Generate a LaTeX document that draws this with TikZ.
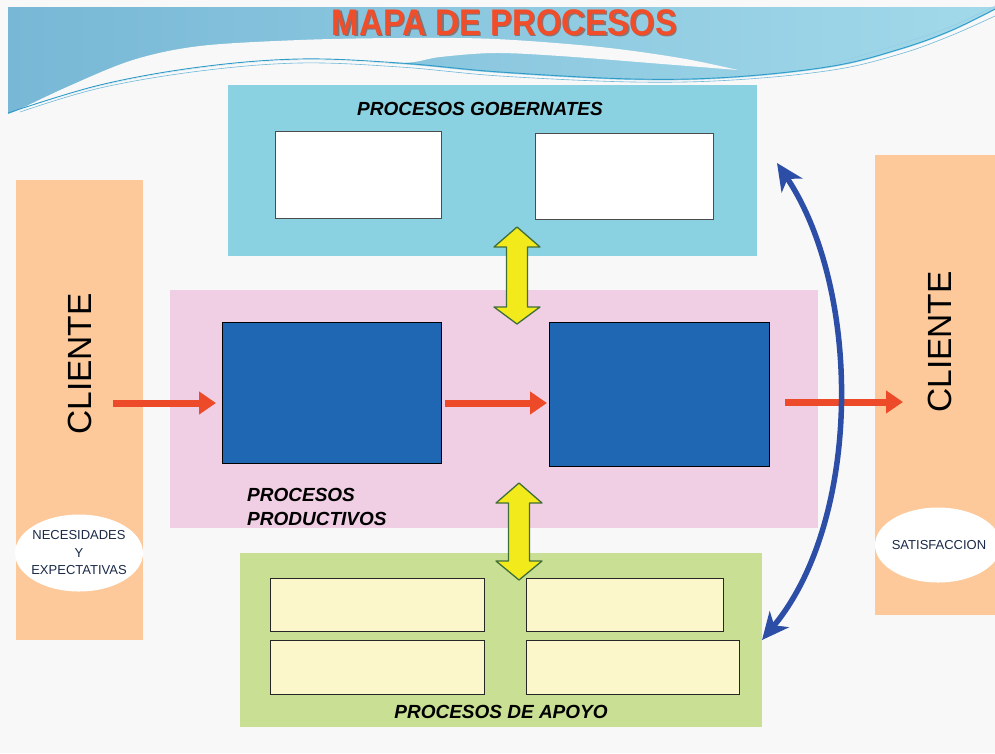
\documentclass[tikz,border=0pt]{standalone}
\usepackage{fontspec}
\setmainfont{Liberation Sans}
\usetikzlibrary{arrows.meta,shapes.geometric}
\definecolor{pagebg}{HTML}{F8F8F8}
\definecolor{bannerL}{HTML}{78B8D6}
\definecolor{bannerM}{HTML}{86CFE2}
\definecolor{bannerR}{HTML}{A2D9EA}
\definecolor{bannerline}{HTML}{2E9BC9}
\definecolor{titlered}{HTML}{F04E2A}
\definecolor{titleshadow}{HTML}{7A2410}
\definecolor{govblue}{HTML}{8AD2E2}
\definecolor{pinkbg}{HTML}{F0CFE4}
\definecolor{greenbg}{HTML}{C9DF93}
\definecolor{peach}{HTML}{FDC99A}
\definecolor{procblue}{HTML}{1F67B2}
\definecolor{cream}{HTML}{FCF7CB}
\definecolor{arrowred}{HTML}{EC4A28}
\definecolor{yellowc}{HTML}{F3EA1C}
\definecolor{yedge}{HTML}{3F6E3A}
\definecolor{curveblue}{HTML}{2D4EA6}
\definecolor{navytext}{HTML}{1B2A48}
\tikzset{
  rectbox/.style={rectangle, inner sep=0pt, outer sep=0pt, anchor=north west},
  whitebox/.style={rectbox, fill=white, draw=black!70, line width=0.9pt},
  bluebox/.style={rectbox, fill=procblue, draw=black, line width=1pt},
  creambox/.style={rectbox, fill=cream, draw=black!85, line width=0.9pt},
  headtext/.style={inner sep=0pt, font=\fontsize{19}{24}\selectfont\bfseries\itshape, text=black},
  clienttext/.style={inner sep=0pt, rotate=90, font=\fontsize{33.5}{36}\selectfont, text=black},
  smalltext/.style={inner sep=0pt, align=center, font=\fontsize{13}{17.5}\selectfont, text=navytext},
  whiteoval/.style={ellipse, fill=white, inner sep=0pt, outer sep=0pt},
  redarrow/.style={line width=7pt, draw=arrowred, -{Triangle[length=17pt,width=22pt]}},
  yellowarrow/.style={fill=yellowc, draw=yedge, line width=1.3pt, line join=round},
  bluecurve/.style={line width=5.5pt, draw=curveblue, {Stealth[length=27pt,width=25pt,inset=8pt]}-{Stealth[length=27pt,width=25pt,inset=8pt]}},
  titlefont/.style={inner sep=0pt, xscale=0.89, font=\fontsize{37}{40}\selectfont\bfseries}
}
\begin{document}
\begin{tikzpicture}[x=1pt,y=-1pt]
\useasboundingbox (0,0) rectangle (995,753);
\fill[pagebg] (0,0) rectangle (995,753);
% banner
\shade[left color=bannerL, middle color=bannerM, right color=bannerR] (8,7) -- (995,7) -- plot[smooth, tension=0.6] coordinates {(995,10) (950,32) (900,50) (833,67) (733,78) (633,80) (500,73) (400,64) (300,60) (200,68) (100,86) (8,114)} -- cycle;
\fill[pagebg] plot[smooth, tension=0.55] coordinates {(8,115) (67,87) (133,60) (200,46) (300,40) (400,38) (495,39) (600,47) (680,58) (738,70)} -- plot[smooth, tension=0.55] coordinates {(650,63) (560,56) (495,53) (440,57) (400,63) (300,60) (200,68) (100,86) (8,115)} -- cycle;
\draw[bannerline, line width=0.9pt] plot[smooth, tension=0.6] coordinates {(8,113) (100,85) (200,67) (300,59) (400,63) (500,72) (633,79) (733,77) (833,66) (900,49) (950,31) (995,9)};
\draw[bannerline!70, line width=0.6pt] plot[smooth, tension=0.6] coordinates {(20,112) (100,88) (200,71) (300,63) (400,67) (500,76) (633,82) (733,80) (833,70) (900,54) (950,36) (995,16)};
\draw[bannerline!50, line width=0.6pt] plot[smooth, tension=0.6] coordinates {(833,64) (900,44) (950,27) (995,6)};
% title
\node[titlefont, text=titleshadow, opacity=0.5] (titleS) at (506,24) {MAPA DE PROCESOS};
\node[titlefont, text=titlered] (title) at (504.5,23) {MAPA DE PROCESOS};
% client columns
\node[rectbox, fill=peach, minimum width=127, minimum height=460] (CL) at (16,180) {};
\node[rectbox, fill=peach, minimum width=120, minimum height=460] (CR) at (875,155) {};
\node[clienttext] (CLt) at (80,364) {CLIENTE};
\node[clienttext] (CRt) at (940,342) {CLIENTE};
\node[whiteoval, minimum width=128, minimum height=77] (EL) at (79,553) {};
\node[smalltext] (ELt) at (EL.center) {NECESIDADES\\Y\\EXPECTATIVAS};
\begin{scope}
\clip (0,0) rectangle (995,753);
\node[whiteoval, minimum width=126, minimum height=75] (ER) at (938,545) {};
\end{scope}
\node[smalltext] (ERt) at (939,545) {SATISFACCION};
% governing processes
\node[rectbox, fill=govblue, minimum width=529, minimum height=171] (G) at (228,85) {};
\node[headtext] (Gt) at (480,109) {PROCESOS GOBERNATES};
\node[whitebox, minimum width=166, minimum height=87] (G1) at (275,131) {};
\node[whitebox, minimum width=178, minimum height=86] (G2) at (535,133) {};
% productive processes
\node[rectbox, fill=pinkbg, minimum width=648, minimum height=238] (P) at (170,290) {};
\node[bluebox, minimum width=219, minimum height=141] (P1) at (222,322) {};
\node[bluebox, minimum width=220, minimum height=144] (P2) at (549,322) {};
\node[headtext, anchor=north west, align=left] (Pt) at (247,488) {PROCESOS\\PRODUCTIVOS};
% support processes
\node[rectbox, fill=greenbg, minimum width=522, minimum height=174] (A) at (240,553) {};
\node[creambox, minimum width=214, minimum height=53] (A1) at (270,578) {};
\node[creambox, minimum width=197, minimum height=53] (A2) at (526,578) {};
\node[creambox, minimum width=214, minimum height=54] (A3) at (270,640) {};
\node[creambox, minimum width=213, minimum height=54] (A4) at (526,640) {};
\node[headtext] (At) at (501,712) {PROCESOS DE APOYO};
% red arrows
\coordinate (L0) at (113,403);
\coordinate (L1) at (216,403);
\coordinate (M0) at (445,403);
\coordinate (M1) at (547,403);
\coordinate (R0) at (785,402);
\coordinate (R1) at (903,402);
\draw[redarrow] (L0) -- (L1);
\draw[redarrow] (M0) -- (M1);
\draw[redarrow] (R0) -- (R1);
% yellow double arrows
\draw[yellowarrow] (517,227) -- (540,247) -- (527.5,247) -- (527.5,307) -- (540,307) -- (517,324) -- (494,307) -- (506.5,307) -- (506.5,247) -- (494,247) -- cycle;
\draw[yellowarrow] (519,483) -- (542,503) -- (529.5,503) -- (529.5,561) -- (542,561) -- (519,580) -- (496,561) -- (508.5,561) -- (508.5,503) -- (496,503) -- cycle;
% blue curved double arrow
\coordinate (Bt) at (777,163);
\coordinate (Bb) at (762,640);
\draw[bluecurve] (Bt) .. controls (862,290) and (862,520) .. (Bb);
\end{tikzpicture}
\end{document}
